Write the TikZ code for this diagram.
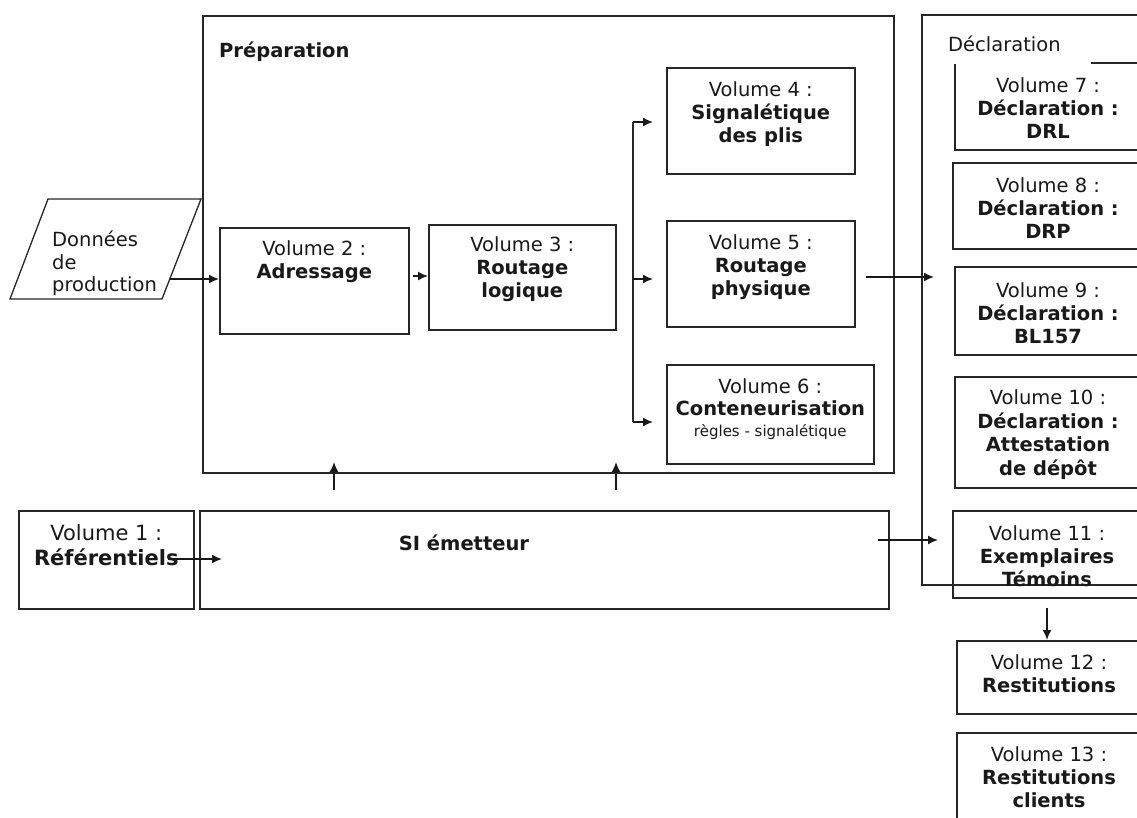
\documentclass[tikz,border=0pt]{standalone}
\usepackage{fontspec}
\setmainfont{DejaVu Sans}
\usetikzlibrary{arrows.meta}
\begin{document}
\begin{tikzpicture}[x=1pt,y=-1pt,
  box/.style={draw=black!85, line width=1.6pt, rectangle, inner sep=0pt, anchor=north west},
  txt/.style={font=\fontsize{19.5}{23}\selectfont, align=center, anchor=north, inner sep=0pt, text=black!90},
  arr/.style={draw=black!90, line width=1.6pt, -{Latex[length=10pt,width=9pt]}},
  ln/.style={draw=black!85, line width=1.6pt}]
\clip (0,0) rectangle (1137,817);
\fill[white] (0,0) rectangle (1137,817);

% frames
\node[box, minimum width=691pt, minimum height=457pt] (prep) at (202,15) {};
\node[box, minimum width=240pt, minimum height=570pt] (decl) at (921,14) {};
\node[txt, anchor=west, font=\fontsize{19.5}{23}\selectfont\bfseries] (preplab) at (219,52) {Préparation};

% input
\draw[ln, line width=1.3pt] (48,199) -- (201,199) -- (162,299) -- (10,299) -- cycle;
\node[txt, anchor=north west, align=left, font=\fontsize{19.5}{22.5}\selectfont] (donnees) at (52,231) {\strut Données\\de\\production};
\coordinate (dpout) at (170,279);

% preparation boxes
\node[box, minimum width=189pt, minimum height=106pt] (v2) at (219,227) {};
\node[txt] (t2) at ([yshift=-12pt]v2.north) {\strut Volume 2 :\\\textbf{Adressage}};
\node[box, minimum width=187pt, minimum height=105pt] (v3) at (428,224) {};
\node[txt] (t3) at ([yshift=-11pt]v3.north) {\strut Volume 3 :\\\textbf{Routage}\\\textbf{logique}};
\node[box, minimum width=188pt, minimum height=106pt] (v4) at (666,67) {};
\node[txt] (t4) at ([yshift=-13.5pt]v4.north) {\strut Volume 4 :\\\textbf{Signalétique}\\\textbf{des plis}};
\node[box, minimum width=188pt, minimum height=106pt] (v5) at (666,220) {};
\node[txt] (t5) at ([yshift=-13.5pt]v5.north) {\strut Volume 5 :\\\textbf{Routage}\\\textbf{physique}};
\node[box, minimum width=207pt, minimum height=99pt] (v6) at (666,364) {};
\node[txt, font=\fontsize{19.5}{22}\selectfont] (t6) at ([yshift=-13.5pt]v6.north) {\strut Volume 6 :\\\textbf{Conteneurisation}\\[-1pt]{\fontsize{15}{18}\selectfont règles - signalétique}};

% declaration boxes
\node[box, minimum width=200pt, minimum height=87pt] (v7) at (954,62) {};
\node[txt] (t7) at (1048,76) {\strut Volume 7 :\\\textbf{Déclaration :}\\\textbf{DRL}};
\node[box, minimum width=200pt, minimum height=86pt] (v8) at (952,162) {};
\node[txt] (t8) at (1048,176) {\strut Volume 8 :\\\textbf{Déclaration :}\\\textbf{DRP}};
\node[box, minimum width=200pt, minimum height=88pt] (v9) at (954,266) {};
\node[txt] (t9) at (1048,281) {\strut Volume 9 :\\\textbf{Déclaration :}\\\textbf{BL157}};
\node[box, minimum width=200pt, minimum height=111pt] (v10) at (954,376) {};
\node[txt, font=\fontsize{19.5}{23.6}\selectfont] (t10) at (1048,388) {\strut Volume 10 :\\\textbf{Déclaration :}\\\textbf{Attestation}\\\textbf{de dépôt}};
\node[box, minimum width=200pt, minimum height=87pt] (v11) at (952,510) {};
\node[txt] (t11) at (1047,524) {\strut Volume 11 :\\\textbf{Exemplaires}\\\textbf{Témoins}};
\node[box, minimum width=200pt, minimum height=73pt] (v12) at (956,640) {};
\node[txt] (t12) at (1049,653) {\strut Volume 12 :\\\textbf{Restitutions}};
\node[box, minimum width=200pt, minimum height=100pt] (v13) at (956,732) {};
\node[txt] (t13) at (1049,745) {\strut Volume 13 :\\\textbf{Restitutions}\\\textbf{clients}};
\node[txt, anchor=west, fill=white, inner xsep=3pt, text width=140pt, align=left, minimum height=40pt] (decllab) at (945,44) {Déclaration};

% bottom boxes
\node[box, minimum width=175pt, minimum height=98pt] (v1) at (18,510) {};
\node[txt, font=\fontsize{21}{25}\selectfont] (t1) at ([yshift=-13pt]v1.north) {\strut Volume 1 :\\\textbf{Référentiels}};
\node[box, minimum width=689pt, minimum height=98pt] (si) at (199,510) {};
\node[txt, font=\fontsize{19.5}{23}\selectfont\bfseries] (tsi) at (464,534) {\strut SI émetteur};

% coordinates
\coordinate (forkTop) at (633,122);
\coordinate (forkMid) at (633,279);
\coordinate (forkBot) at (633,422);
\coordinate (v5out) at (866,277);
\coordinate (declin) at (934,277);
\coordinate (up1s) at (334,490);
\coordinate (up1e) at (334,462);
\coordinate (up2s) at (616,490);
\coordinate (up2e) at (616,462);
\coordinate (refout) at (168,559);
\coordinate (refin) at (222,559);
\coordinate (siout) at (878,540);
\coordinate (v11in) at (938,540);
\coordinate (v11out) at (1047,608);

% connectors
\draw[arr] (dpout) -- (v2.west |- dpout);
\draw[arr, shorten <=3pt] (v2.east |- 0,276) -- (v3.west |- 0,276);
\draw[ln, line width=1.2pt] (forkTop) -- (forkBot);
\draw[arr, shorten >=13pt] (forkTop) -- (v4.west |- forkTop);
\draw[arr, shorten >=13pt] (forkMid) -- (v5.west |- forkMid);
\draw[arr, shorten >=13pt] (forkBot) -- (v6.west |- forkBot);
\draw[arr] (v5out) -- (declin);
\draw[arr] (up1s) -- (up1e);
\draw[arr] (up2s) -- (up2e);
\draw[arr] (refout) -- (refin);
\draw[arr] (siout) -- (v11in);
\draw[arr] (v11out) -- (v12.north -| v11out);
\end{tikzpicture}
\end{document}
